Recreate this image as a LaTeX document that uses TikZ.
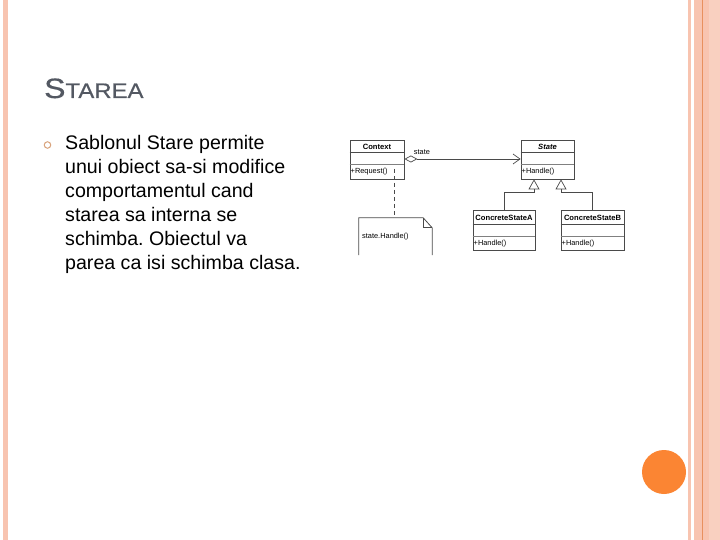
\documentclass[tikz,border=0pt]{standalone}
\usepackage{fontspec}
\setmainfont{Liberation Sans}
\newfontfamily\titlefont[FakeStretch=1.14,FakeBold=0.6]{Liberation Sans}
\usetikzlibrary{arrows.meta,positioning,calc}
\frenchspacing

\definecolor{stripe}{HTML}{F8C4B0}
\definecolor{stripedark}{HTML}{E8905E}
\definecolor{titlegray}{HTML}{535862}
\definecolor{bulletcol}{HTML}{D9A37C}
\definecolor{dot}{HTML}{FB8533}
\definecolor{umlline}{HTML}{4A4A4A}

\tikzstyle{umlbox} = [rectangle, draw=umlline, line width=0.8pt, fill=white,
    minimum height=39, inner sep=0pt]
\tikzstyle{umltitle} = [font=\fontsize{7.6}{8}\selectfont\bfseries, inner sep=0pt]
\tikzstyle{umlop} = [font=\fontsize{7.4}{8}\selectfont, inner sep=0pt, anchor=west]
\tikzstyle{inherit} = [draw=umlline, line width=0.7pt, -{Triangle[open,length=10pt,width=11pt]}]

\begin{document}
\begin{tikzpicture}[x=1pt,y=-1pt]
  \useasboundingbox (0,0) rectangle (720,540);
  \fill[white] (0,0) rectangle (720,540);

  % page borders
  \fill[stripe] (3,0) rectangle (8,540);
  \fill[stripe] (688,0) rectangle (691,540);
  \fill[stripe] (694,0) rectangle (720,540);
  \fill[stripedark] (702,0) rectangle (703.2,540);
  \fill[stripe!80!white] (709,0) rectangle (720,540);
  \fill[dot] (664,472) circle (22);

  % title and text
  \node[anchor=base west, inner sep=0pt, text=titlegray] (title) at (44,98)
    {\titlefont\fontsize{28}{28}\selectfont S\fontsize{21}{21}\selectfont TAREA};
  \node[draw=bulletcol, line width=1pt, circle, minimum size=6.5, inner sep=0pt] (bul) at (47.5,145) {};
  \node[anchor=north west, inner sep=0pt, align=left,
        font=\fontsize{19.6}{24}\selectfont] (body) at (65,135)
    {Sablonul Stare permite\\unui obiect sa-si modifice\\comportamentul cand\\starea sa interna se\\schimba. Obiectul va\\parea ca isi schimba clasa.};

  % class Context
  \node[umlbox, minimum width=54] (ctx) at (377,159.5) {};
  \node[umltitle] (ctxname) at (377,146.5) {Context};
  \node[umlop] (ctxop) at (350.5,172) {+Request()};
  \draw[umlline, line width=0.7pt] ($(ctx.north west)+(0,13)$) -- ($(ctx.north east)+(0,13)$);
  \draw[umlline!70, line width=1.6pt] ($(ctx.north west)+(0,25)$) -- ($(ctx.north east)+(0,25)$);

  % class State
  \node[umlbox, minimum width=53] (state) at (547.5,159.5) {};
  \node[umltitle, font=\fontsize{7.6}{8}\selectfont\bfseries\itshape] (statename) at (547.5,146.5) {State};
  \node[umlop] (stateop) at (521.5,172) {+Handle()};
  \draw[umlline, line width=0.7pt] ($(state.north west)+(0,13)$) -- ($(state.north east)+(0,13)$);
  \draw[umlline!70, line width=1.6pt] ($(state.north west)+(0,25)$) -- ($(state.north east)+(0,25)$);

  % class ConcreteStateA
  \node[umlbox, minimum width=62, minimum height=40] (csA) at (504,230) {};
  \node[umltitle] (csAname) at (504,217.5) {ConcreteStateA};
  \node[umlop] (csAop) at (473.5,243.5) {+Handle()};
  \draw[umlline, line width=1.2pt] ($(csA.north west)+(0,15)$) -- ($(csA.north east)+(0,15)$);
  \draw[umlline!70, line width=1.6pt] ($(csA.north west)+(0,27)$) -- ($(csA.north east)+(0,27)$);

  % class ConcreteStateB
  \node[umlbox, minimum width=63, minimum height=40] (csB) at (592.5,230) {};
  \node[umltitle] (csBname) at (592.5,217.5) {ConcreteStateB};
  \node[umlop] (csBop) at (561.5,243.5) {+Handle()};
  \draw[umlline, line width=1.2pt] ($(csB.north west)+(0,15)$) -- ($(csB.north east)+(0,15)$);
  \draw[umlline!70, line width=1.6pt] ($(csB.north west)+(0,27)$) -- ($(csB.north east)+(0,27)$);

  % note
  \node[minimum width=73, minimum height=37, inner sep=0pt] (note) at (395.5,236.5) {};
  \node[umlop] (notetext) at (362,237) {state.Handle()};
  \draw[umlline, line width=0.8pt]
    (note.south west) -- (note.north west) -- ($(note.north east)+(-9,0)$)
    -- ($(note.north east)+(0,10)$) -- (note.south east);
  \draw[umlline, line width=0.6pt]
    ($(note.north east)+(-9,0)$) |- ($(note.north east)+(0,10)$);

  % connectors
  \coordinate (reqpt) at (394,169);
  \draw[umlline, line width=0.8pt, dash pattern=on 4pt off 3pt] (reqpt) -- (reqpt |- note.north);
  \draw[umlline, line width=0.7pt,
        {Diamond[open,length=13pt,width=7pt]}-{Straight Barb[length=7pt,width=10pt]}]
    (ctx.east |- 0,159) -- node[pos=0.07, above right=3.5pt and 0pt, inner sep=1pt,
      font=\fontsize{7.4}{8}\selectfont, text=black] (rolename) {state} (state.west |- 0,159);
  \draw[inherit] (csA.north) -- ++(0,-17) -| ($(state.south)+(-13.5,0)$);
  \draw[inherit] (csB.north) -- ++(0,-17) -| ($(state.south)+(13.5,0)$);
\end{tikzpicture}
\end{document}
